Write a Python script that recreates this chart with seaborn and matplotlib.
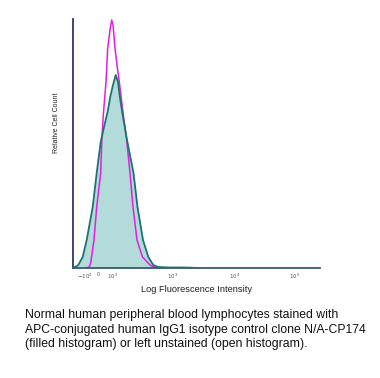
import matplotlib
matplotlib.use("Agg")
import matplotlib.pyplot as plt
import seaborn as sns
import pandas as pd

# Unstained (open histogram, magenta)
unstained_x = [13, 16.3, 17.7, 21, 23.7, 27.7, 28.7, 30.3, 33, 34.7, 37, 38.7, 40, 42, 44,
               46.3, 50.3, 53.7, 57, 60, 64, 69.5, 77, 82, 87]
unstained_y = [0, 1, 5, 28, 61, 95, 126, 153, 186, 220, 238, 248, 243, 220, 203,
               186, 153, 128, 95, 61, 28, 11, 3, 0.5, 0]

# Isotype control (filled histogram, teal)
stained_x = [0.5, 3, 5.3, 9.7, 13.7, 19.7, 23.7, 27.7, 31.5, 35, 37, 40, 42.7, 45, 47,
             49.7, 54, 60.5, 64.5, 70, 75.3, 80.3, 85, 97, 112, 127]
stained_y = [0.5, 1.5, 3, 11, 28, 61, 95, 126, 143, 158, 170, 183, 193, 186, 170,
             153, 128, 95, 61, 28, 11, 3, 1, 0.5, 0.5, 0]

tick_pos = [12, 25, 40, 100, 162, 222]
tick_labels = ["$-10^2$", "0", "$10^2$", "$10^3$", "$10^4$", "$10^5$"]

caption = ("Normal human peripheral blood lymphocytes stained with\n"
           "APC-conjugated human IgG1 isotype control clone N/A-CP174\n"
           "(filled histogram) or left unstained (open histogram).")

sns.set_style("white")
plt.rcParams['font.family'] = ['Liberation Sans', 'DejaVu Sans']

fig = plt.figure(figsize=(3.8, 3.78), dpi=100)
ax = fig.add_axes([73/380, 1 - 268/378, (320 - 73)/380, (268 - 19)/378])

df_s = pd.DataFrame({"x": stained_x, "y": stained_y})
df_u = pd.DataFrame({"x": unstained_x, "y": unstained_y})

ax.fill_between(df_s["x"], df_s["y"], 0, color="#b2dbd9", lw=0, zorder=1)
sns.lineplot(data=df_u, x="x", y="y", ax=ax, color="#e020e0", lw=1.1, sort=False, zorder=2)
sns.lineplot(data=df_s, x="x", y="y", ax=ax, color="#1d7371", lw=1.3, sort=False, zorder=3)

ax.set_xlim(0, 247)
ax.set_ylim(0, 249)
ax.set_yticks([])
ax.set_xticks(tick_pos)
ax.set_xticklabels(tick_labels, fontsize=4, color="#555555")
ax.tick_params(axis="x", length=0, pad=3)
ax.set_xlabel("Log Fluorescence Intensity", fontsize=6.7, color="#222222", labelpad=2.5)
ax.set_ylabel("")
fig.text(57/380, 1 - 123/378, "Relative Cell Count", rotation=90, fontsize=5,
         color="#222222", ha="center", va="center")

for s in ["top", "right"]:
    ax.spines[s].set_visible(False)
ax.spines["left"].set_color("#2b3a63")
ax.spines["left"].set_linewidth(1.3)
ax.spines["bottom"].set_color("#3a5a6a")
ax.spines["bottom"].set_linewidth(1.3)

fig.text(25/380, 1 - 309/378, caption, fontsize=8.8, color="#111111",
         ha="left", va="top", linespacing=1.28)

fig.savefig("out.png", dpi=100)
